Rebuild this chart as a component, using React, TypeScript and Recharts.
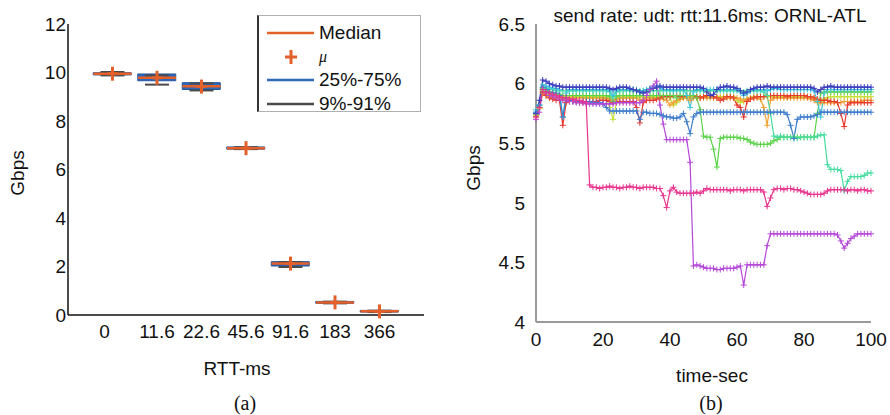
import React from 'react';
import { ComposedChart, LineChart, Line, Bar, Scatter, ErrorBar, XAxis, YAxis } from 'recharts';

// ---------- Panel (a) data ----------
const rttLabels = ['0', '11.6', '22.6', '45.6', '91.6', '183', '366'];
const medians = [9.95, 9.78, 9.43, 6.88, 2.12, 0.52, 0.15];
const means = [9.95, 9.78, 9.42, 6.88, 2.12, 0.52, 0.15];
const q25 = [9.9, 9.66, 9.3, 6.84, 2.02, 0.48, 0.12];
const q75 = [9.99, 9.94, 9.58, 6.93, 2.2, 0.56, 0.19];
const p9 = [9.88, 9.5, 9.26, 6.84, 1.98, 0.48, 0.12];
const p91 = [10.02, 9.88, 9.55, 6.92, 2.18, 0.55, 0.18];
const gbpsTicksA = [0, 2, 4, 6, 8, 10, 12];

// ---------- Panel (b) data ----------
const timeSec = Array.from({ length: 101 }, (_, i) => i);
const rateYG = [
  5.74, 5.80, 5.94, 5.92, 5.91, 5.90, 5.90, 5.90, 5.89, 5.89,
  5.89, 5.89, 5.89, 5.89, 5.89, 5.89, 5.89, 5.89, 5.89, 5.89,
  5.89, 5.88, 5.80, 5.70, 5.84, 5.88, 5.89, 5.89, 5.89, 5.89,
  5.89, 5.89, 5.89, 5.89, 5.89, 5.89, 5.89, 5.89, 5.89, 5.89,
  5.88, 5.82, 5.84, 5.87, 5.88, 5.89, 5.89, 5.89, 5.89, 5.89,
  5.89, 5.89, 5.89, 5.89, 5.89, 5.89, 5.89, 5.89, 5.89, 5.89,
  5.86, 5.84, 5.85, 5.87, 5.88, 5.89, 5.89, 5.89, 5.89, 5.89,
  5.89, 5.89, 5.89, 5.89, 5.89, 5.89, 5.89, 5.89, 5.89, 5.89,
  5.89, 5.89, 5.89, 5.88, 5.86, 5.85, 5.87, 5.88, 5.89, 5.89,
  5.89, 5.89, 5.89, 5.89, 5.89, 5.89, 5.89, 5.89, 5.89, 5.89, 5.89,
];
const rateOrange = [
  5.73, 5.79, 5.92, 5.90, 5.89, 5.88, 5.88, 5.88, 5.87, 5.87,
  5.88, 5.88, 5.88, 5.88, 5.88, 5.88, 5.88, 5.88, 5.88, 5.88,
  5.88, 5.88, 5.87, 5.86, 5.87, 5.88, 5.88, 5.88, 5.88, 5.88,
  5.88, 5.86, 5.87, 5.88, 5.88, 5.88, 5.88, 5.88, 5.87, 5.86,
  5.82, 5.84, 5.86, 5.87, 5.88, 5.88, 5.86, 5.88, 5.88, 5.88,
  5.88, 5.88, 5.88, 5.88, 5.88, 5.88, 5.88, 5.88, 5.88, 5.88,
  5.88, 5.87, 5.86, 5.87, 5.88, 5.88, 5.88, 5.87, 5.80, 5.65,
  5.86, 5.88, 5.88, 5.88, 5.88, 5.88, 5.88, 5.88, 5.88, 5.88,
  5.88, 5.88, 5.87, 5.86, 5.84, 5.84, 5.84, 5.84, 5.84, 5.84,
  5.84, 5.84, 5.85, 5.85, 5.85, 5.85, 5.85, 5.85, 5.86, 5.86, 5.86,
];
const rateRed = [
  5.72, 5.80, 5.93, 5.90, 5.88, 5.87, 5.86, 5.86, 5.65, 5.84,
  5.85, 5.85, 5.85, 5.84, 5.84, 5.85, 5.85, 5.85, 5.85, 5.86,
  5.86, 5.86, 5.85, 5.84, 5.85, 5.85, 5.85, 5.85, 5.85, 5.85,
  5.80, 5.67, 5.84, 5.86, 5.86, 5.86, 5.87, 5.88, 5.89, 5.89,
  5.89, 5.90, 5.90, 5.89, 5.89, 5.90, 5.90, 5.90, 5.89, 5.88,
  5.89, 5.90, 5.90, 5.89, 5.88, 5.86, 5.87, 5.89, 5.89, 5.88,
  5.82, 5.80, 5.72, 5.85, 5.87, 5.88, 5.89, 5.89, 5.89, 5.90,
  5.90, 5.90, 5.90, 5.90, 5.90, 5.89, 5.90, 5.90, 5.90, 5.90,
  5.90, 5.89, 5.89, 5.88, 5.87, 5.86, 5.86, 5.86, 5.85, 5.85,
  5.84, 5.75, 5.64, 5.82, 5.84, 5.84, 5.84, 5.84, 5.84, 5.84, 5.84,
];
const rateGreen = [
  5.74, 5.80, 5.96, 5.94, 5.93, 5.92, 5.91, 5.91, 5.90, 5.90,
  5.90, 5.90, 5.90, 5.90, 5.90, 5.90, 5.90, 5.90, 5.90, 5.90,
  5.90, 5.90, 5.89, 5.85, 5.89, 5.90, 5.90, 5.90, 5.90, 5.90,
  5.90, 5.90, 5.90, 5.90, 5.90, 5.90, 5.90, 5.90, 5.90, 5.90,
  5.90, 5.90, 5.88, 5.90, 5.90, 5.90, 5.90, 5.90, 5.88, 5.78,
  5.56, 5.55, 5.55, 5.45, 5.30, 5.54, 5.55, 5.55, 5.55, 5.55,
  5.55, 5.54, 5.54, 5.53, 5.51, 5.50, 5.49, 5.49, 5.49, 5.49,
  5.50, 5.52, 5.53, 5.55, 5.55, 5.55, 5.55, 5.55, 5.55, 5.55,
  5.55, 5.55, 5.55, 5.55, 5.75, 5.92, 5.93, 5.93, 5.93, 5.93,
  5.93, 5.93, 5.93, 5.93, 5.93, 5.93, 5.93, 5.93, 5.93, 5.93, 5.93,
];
const rateMint = [
  5.76, 5.82, 5.97, 5.96, 5.95, 5.95, 5.94, 5.94, 5.94, 5.94,
  5.94, 5.94, 5.94, 5.94, 5.94, 5.94, 5.94, 5.94, 5.94, 5.94,
  5.94, 5.94, 5.93, 5.88, 5.93, 5.94, 5.94, 5.94, 5.94, 5.94,
  5.94, 5.94, 5.94, 5.94, 5.94, 5.94, 5.94, 5.94, 5.94, 5.94,
  5.94, 5.94, 5.94, 5.94, 5.94, 5.94, 5.94, 5.94, 5.94, 5.94,
  5.94, 5.94, 5.94, 5.94, 5.94, 5.94, 5.94, 5.94, 5.94, 5.94,
  5.94, 5.94, 5.93, 5.94, 5.94, 5.94, 5.94, 5.94, 5.93, 5.90,
  5.75, 5.56, 5.55, 5.56, 5.55, 5.55, 5.55, 5.55, 5.54, 5.55,
  5.55, 5.55, 5.55, 5.55, 5.56, 5.57, 5.57, 5.32, 5.28, 5.28,
  5.28, 5.27, 5.10, 5.18, 5.22, 5.22, 5.22, 5.22, 5.23, 5.25, 5.25,
];
const rateCyan = [
  5.78, 5.82, 5.99, 5.98, 5.97, 5.96, 5.96, 5.95, 5.72, 5.92,
  5.95, 5.95, 5.95, 5.95, 5.95, 5.95, 5.95, 5.95, 5.95, 5.95,
  5.95, 5.95, 5.94, 5.90, 5.94, 5.95, 5.95, 5.95, 5.95, 5.95,
  5.95, 5.93, 5.94, 5.95, 5.96, 5.97, 5.98, 5.97, 5.95, 5.95,
  5.95, 5.94, 5.95, 5.95, 5.95, 5.90, 5.80, 5.93, 5.95, 5.95,
  5.95, 5.95, 5.95, 5.95, 5.95, 5.95, 5.95, 5.95, 5.95, 5.95,
  5.95, 5.93, 5.90, 5.92, 5.94, 5.95, 5.95, 5.95, 5.95, 5.94,
  5.95, 5.96, 5.96, 5.95, 5.95, 5.95, 5.95, 5.95, 5.95, 5.95,
  5.95, 5.95, 5.95, 5.94, 5.85, 5.72, 5.92, 5.95, 5.95, 5.95,
  5.95, 5.95, 5.95, 5.95, 5.95, 5.95, 5.95, 5.95, 5.95, 5.95, 5.95,
];
const rateBlue = [
  5.76, 5.82, 5.97, 5.95, 5.93, 5.92, 5.92, 5.90, 5.72, 5.88,
  5.86, 5.85, 5.85, 5.85, 5.85, 5.85, 5.85, 5.84, 5.84, 5.84,
  5.83, 5.80, 5.77, 5.77, 5.77, 5.77, 5.77, 5.77, 5.77, 5.77,
  5.77, 5.70, 5.76, 5.76, 5.75, 5.75, 5.75, 5.74, 5.73, 5.72,
  5.72, 5.71, 5.71, 5.72, 5.75, 5.68, 5.58, 5.72, 5.75, 5.76,
  5.76, 5.76, 5.76, 5.76, 5.76, 5.76, 5.76, 5.76, 5.76, 5.76,
  5.76, 5.76, 5.76, 5.76, 5.76, 5.76, 5.76, 5.76, 5.76, 5.76,
  5.76, 5.76, 5.76, 5.76, 5.76, 5.74, 5.65, 5.54, 5.70, 5.72,
  5.72, 5.72, 5.72, 5.73, 5.74, 5.76, 5.76, 5.76, 5.76, 5.76,
  5.76, 5.76, 5.76, 5.76, 5.76, 5.76, 5.76, 5.76, 5.76, 5.76, 5.76,
];
const rateIndigo = [
  5.75, 5.86, 6.03, 6.02, 6.00, 5.99, 5.98, 5.98, 5.97, 5.97,
  5.97, 5.97, 5.97, 5.97, 5.97, 5.97, 5.97, 5.97, 5.97, 5.97,
  5.97, 5.97, 5.96, 5.95, 5.96, 5.97, 5.97, 5.97, 5.96, 5.95,
  5.94, 5.93, 5.92, 5.93, 5.95, 5.96, 5.97, 5.98, 5.97, 5.97,
  5.97, 5.97, 5.97, 5.97, 5.97, 5.97, 5.97, 5.97, 5.97, 5.97,
  5.96, 5.93, 5.90, 5.91, 5.95, 5.97, 5.97, 5.98, 5.97, 5.97,
  5.96, 5.94, 5.92, 5.93, 5.95, 5.96, 5.97, 5.97, 5.97, 5.98,
  5.97, 5.97, 5.97, 5.97, 5.97, 5.97, 5.97, 5.97, 5.97, 5.97,
  5.97, 5.97, 5.97, 5.96, 5.93, 5.95, 5.97, 5.97, 5.98, 5.97,
  5.97, 5.97, 5.97, 5.97, 5.97, 5.97, 5.97, 5.97, 5.97, 5.97, 5.97,
];
const ratePurple = [
  5.70, 5.76, 5.95, 5.92, 5.90, 5.89, 5.88, 5.87, 5.86, 5.86,
  5.85, 5.85, 5.84, 5.84, 5.84, 5.83, 5.83, 5.83, 5.83, 5.83,
  5.83, 5.83, 5.83, 5.83, 5.84, 5.84, 5.84, 5.84, 5.84, 5.84,
  5.84, 5.84, 5.86, 5.90, 5.95, 5.98, 6.02, 5.82, 5.66, 5.53,
  5.53, 5.53, 5.53, 5.53, 5.53, 5.53, 5.34, 4.47, 4.48, 4.47,
  4.46, 4.45, 4.45, 4.45, 4.44, 4.44, 4.45, 4.45, 4.45, 4.45,
  4.46, 4.47, 4.31, 4.48, 4.48, 4.48, 4.48, 4.48, 4.48, 4.64,
  4.74, 4.74, 4.74, 4.74, 4.74, 4.74, 4.74, 4.74, 4.74, 4.74,
  4.74, 4.74, 4.74, 4.74, 4.74, 4.74, 4.74, 4.74, 4.74, 4.74,
  4.73, 4.68, 4.62, 4.66, 4.70, 4.72, 4.74, 4.74, 4.74, 4.74, 4.74,
];
const rateMagenta = [
  5.72, 5.80, 5.95, 5.93, 5.92, 5.91, 5.90, 5.89, 5.88, 5.88,
  5.87, 5.87, 5.86, 5.86, 5.85, 5.84, 5.15, 5.13, 5.13, 5.12,
  5.13, 5.13, 5.14, 5.13, 5.13, 5.12, 5.13, 5.13, 5.14, 5.13,
  5.13, 5.12, 5.13, 5.13, 5.13, 5.13, 5.12, 5.12, 5.06, 4.96,
  5.10, 5.13, 5.09, 5.08, 5.08, 5.08, 5.08, 5.08, 5.09, 5.08,
  5.10, 5.12, 5.11, 5.11, 5.11, 5.11, 5.11, 5.11, 5.10, 5.11,
  5.11, 5.11, 5.10, 5.11, 5.11, 5.11, 5.11, 5.11, 5.09, 4.97,
  5.04, 5.11, 5.12, 5.12, 5.11, 5.12, 5.12, 5.11, 5.11, 5.10,
  5.09, 5.08, 5.07, 5.07, 5.07, 5.07, 5.08, 5.10, 5.11, 5.11,
  5.11, 5.11, 5.11, 5.10, 5.11, 5.11, 5.10, 5.11, 5.11, 5.10, 5.10,
];
const timeTicks = [0, 20, 40, 60, 80, 100];
const gbpsTicksB = [4, 4.5, 5, 5.5, 6, 6.5];

const seriesB = [
  { key: 'yg', values: rateYG, color: '#c4e03a' },
  { key: 'orange', values: rateOrange, color: '#f2a134' },
  { key: 'red', values: rateRed, color: '#e8392e' },
  { key: 'green', values: rateGreen, color: '#5cd24a' },
  { key: 'mint', values: rateMint, color: '#48dca0' },
  { key: 'cyan', values: rateCyan, color: '#42c6dc' },
  { key: 'blue', values: rateBlue, color: '#3d7ccc' },
  { key: 'indigo', values: rateIndigo, color: '#3b3bbd' },
  { key: 'purple', values: ratePurple, color: '#b548d8' },
  { key: 'magenta', values: rateMagenta, color: '#e8358f' },
];

const boxData = rttLabels.map((label, i) => ({
  pos: i + 1,
  label,
  box: [q25[i], q75[i]],
  med: medians[i],
  mean: means[i],
  whisk: [medians[i] - p9[i], p91[i] - medians[i]],
}));

const lineData = timeSec.map((t, i) => {
  const row: Record<string, number> = { t };
  seriesB.forEach((s) => { row[s.key] = s.values[i]; });
  return row;
});

const SANS = '"Liberation Sans", Arial, Helvetica, sans-serif';
const SERIF = '"Liberation Serif", "Times New Roman", serif';
const ORANGE = '#e4602a';
const BLUE = '#2f68b6';
const DARK = '#4a4a4a';
const FS = 19;

const MedianShape = (props: any) => {
  const { cx, cy } = props;
  if (cx == null || cy == null) return <g />;
  return <line x1={cx - 19} x2={cx + 19} y1={cy} y2={cy} stroke={ORANGE} strokeWidth={2.5} />;
};

const MeanShape = (props: any) => {
  const { cx, cy } = props;
  if (cx == null || cy == null) return <g />;
  return (
    <g stroke={ORANGE} strokeWidth={3}>
      <line x1={cx - 5} x2={cx + 5} y1={cy} y2={cy} />
      <line x1={cx} x2={cx} y1={cy - 7} y2={cy + 7} />
    </g>
  );
};

const EmptyShape = () => <g />;

const RttTick = (props: any) => {
  const { x, y, payload, index } = props;
  const dx = index === 0 ? -8 : 0;
  return (
    <text x={x + dx} y={y} dy={15} textAnchor="middle" fill="#111" fontSize={FS} fontFamily={SANS}>
      {rttLabels[payload.value - 1]}
    </text>
  );
};

const makePlus = (color: string, key: string) => (props: any) => {
  const { cx, cy, index } = props;
  if (cx == null || cy == null) return <g key={`${key}-${index}`} />;
  return (
    <g key={`${key}-${index}`} stroke={color} strokeWidth={1}>
      <line x1={cx - 3} x2={cx + 3} y1={cy} y2={cy} />
      <line x1={cx} x2={cx} y1={cy - 3} y2={cy + 3} />
    </g>
  );
};

const abs = (left: number, top: number, extra: React.CSSProperties = {}): React.CSSProperties => ({
  position: 'absolute',
  left,
  top,
  transform: 'translate(-50%, -50%)',
  whiteSpace: 'nowrap',
  lineHeight: 1,
  ...extra,
});

const legendRows = [
  { label: 'Median', kind: 'line', color: ORANGE, italic: false },
  { label: 'μ', kind: 'plus', color: ORANGE, italic: true },
  { label: '25%-75%', kind: 'line', color: BLUE, italic: false },
  { label: '9%-91%', kind: 'line', color: DARK, italic: false },
];

export default function App() {
  return (
    <div style={{ position: 'absolute', left: 0, top: 0, width: 890, height: 415, background: '#fff', fontFamily: SANS, color: '#111' }}>
      {/* Panel (a) */}
      <div style={{ position: 'absolute', left: 0, top: 0 }}>
        <ComposedChart width={445} height={415} data={boxData} margin={{ top: 24, right: 21, bottom: 70, left: 28 }}>
          <XAxis
            dataKey="pos"
            type="number"
            domain={[0, 8]}
            ticks={[1, 2, 3, 4, 5, 6, 7]}
            tick={<RttTick />}
            tickLine={false}
            height={30}
            stroke="#111"
            strokeWidth={1.5}
            interval={0}
          />
          <YAxis
            type="number"
            domain={[0, 12]}
            ticks={gbpsTicksA}
            width={40}
            tickLine={false}
            tickSize={0}
            tickMargin={2}
            stroke="#111"
            strokeWidth={1.5}
            tick={{ fill: '#111', fontSize: FS, fontFamily: SANS }}
            interval={0}
          />
          <Bar dataKey="box" barSize={38} fill={BLUE} stroke="#25559c" strokeWidth={1} isAnimationActive={false} />
          <Scatter dataKey="med" shape={EmptyShape} isAnimationActive={false}>
            <ErrorBar dataKey="whisk" direction="y" width={12} stroke={DARK} strokeWidth={2} isAnimationActive={false} />
          </Scatter>
          <Scatter dataKey="med" shape={MedianShape} isAnimationActive={false} />
          <Scatter dataKey="mean" shape={MeanShape} isAnimationActive={false} />
        </ComposedChart>
      </div>

      {/* Legend (a) */}
      <div style={{ position: 'absolute', left: 257, top: 15, width: 164, height: 97, background: '#fff', border: '1px solid #b0b0b0', borderLeft: '2px solid #333', boxSizing: 'border-box' }}>
        {legendRows.map((r, i) => (
          <div key={r.label} style={{ position: 'absolute', left: 0, top: 6 + i * 23.5, height: 22, width: 162, display: 'flex', alignItems: 'center' }}>
            <svg width={60} height={22} style={{ display: 'block' }}>
              {r.kind === 'line' ? (
                <line x1={8} x2={55} y1={11} y2={11} stroke={r.color} strokeWidth={2.5} />
              ) : (
                <g stroke={r.color} strokeWidth={3}>
                  <line x1={26} x2={38} y1={11} y2={11} />
                  <line x1={32} x2={32} y1={4} y2={18} />
                </g>
              )}
            </svg>
            <span style={{ fontSize: r.italic ? 16 : FS, fontStyle: r.italic ? 'italic' : 'normal', fontFamily: r.italic ? SERIF : SANS, color: '#111' }}>{r.label}</span>
          </div>
        ))}
      </div>

      <div style={abs(17, 173, { fontSize: FS, transform: 'translate(-50%, -50%) rotate(-90deg)' })}>Gbps</div>
      <div style={abs(237, 368, { fontSize: FS })}>RTT-ms</div>
      <div style={abs(245, 403, { fontSize: 20, fontFamily: SERIF })}>(a)</div>

      {/* Panel (b) */}
      <div style={{ position: 'absolute', left: 445, top: 0 }}>
        <LineChart width={445} height={415} data={lineData} margin={{ top: 24, right: 19, bottom: 63, left: 41 }}>
          <XAxis
            dataKey="t"
            type="number"
            domain={[0, 100]}
            ticks={timeTicks}
            height={30}
            tickLine={false}
            tickSize={0}
            tickMargin={11}
            stroke="#9a9a9a"
            strokeWidth={2}
            tick={{ fill: '#111', fontSize: FS, fontFamily: SANS }}
            interval={0}
          />
          <YAxis
            type="number"
            domain={[4, 6.5]}
            ticks={gbpsTicksB}
            width={50}
            tickLine={false}
            tickSize={0}
            tickMargin={11}
            stroke="#9a9a9a"
            strokeWidth={2}
            tick={{ fill: '#111', fontSize: FS, fontFamily: SANS }}
            interval={0}
            allowDataOverflow
          />
          {seriesB.map((s) => (
            <Line
              key={s.key}
              dataKey={s.key}
              type="linear"
              stroke={s.color}
              strokeWidth={1.2}
              dot={makePlus(s.color, s.key)}
              activeDot={false}
              isAnimationActive={false}
            />
          ))}
        </LineChart>
      </div>

      <div style={abs(710, 15, { fontSize: FS })}>send rate: udt: rtt:11.6ms: ORNL-ATL</div>
      <div style={abs(473, 168, { fontSize: FS, transform: 'translate(-50%, -50%) rotate(-90deg)' })}>Gbps</div>
      <div style={abs(712, 375, { fontSize: FS })}>time-sec</div>
      <div style={abs(711, 403, { fontSize: 20, fontFamily: SERIF })}>(b)</div>
    </div>
  );
}
